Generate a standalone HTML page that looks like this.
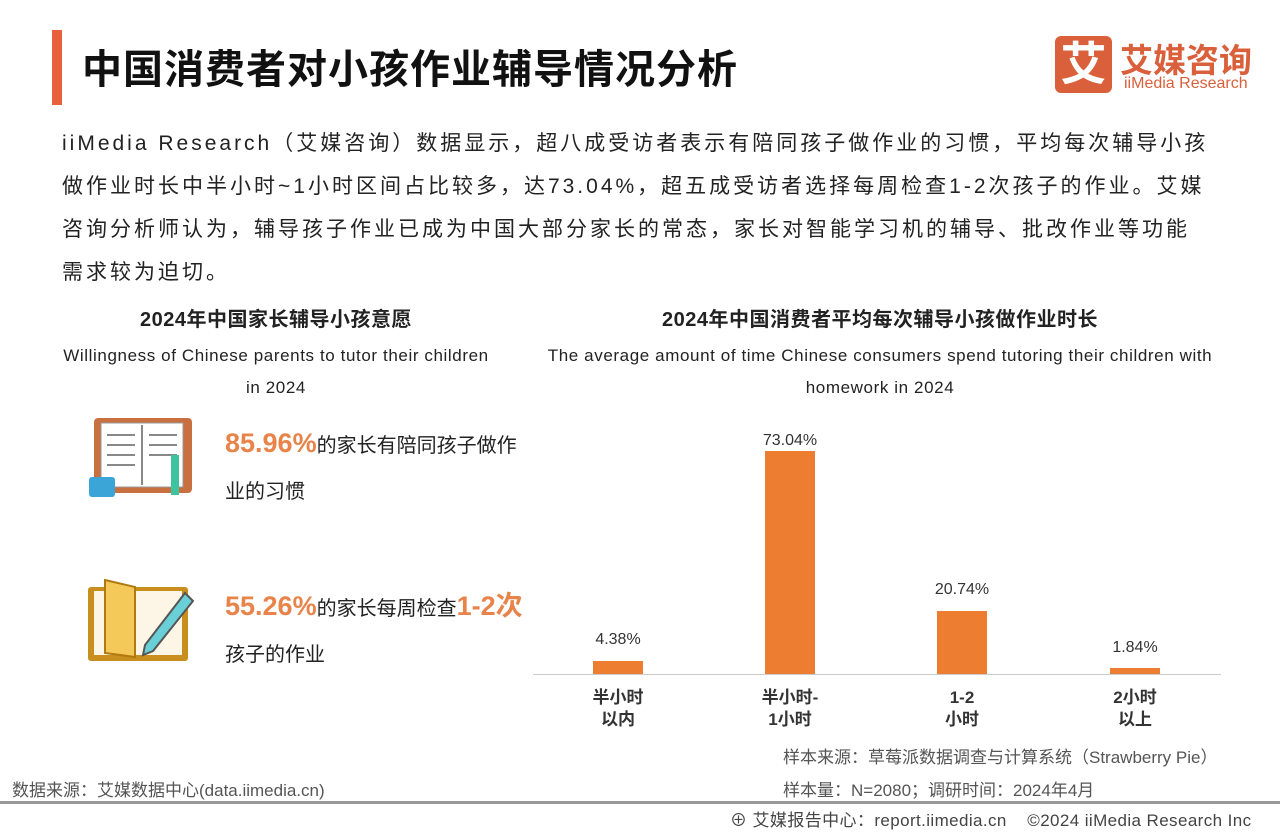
<!DOCTYPE html>
<html><head><meta charset="utf-8"><style>
body{margin:0;width:1280px;height:832px;background:#fff;position:relative;overflow:hidden;font-family:"Liberation Sans","Noto Sans CJK SC",sans-serif;color:#222}
.a{position:absolute;white-space:nowrap}
.bar{position:absolute;background:#ed7d31;width:50px}
.lbl{position:absolute;width:120px;text-align:center;font-size:16px;color:#333}
.xl{position:absolute;width:120px;text-align:center;font-size:17px;font-weight:bold;line-height:22px;color:#333}
.o{color:#e8844a}
</style></head><body>
<div class="a" style="left:52px;top:30px;width:10px;height:75px;background:#e8603c"></div>
<div class="a" style="left:82px;top:37px;font-size:40px;letter-spacing:1px;font-weight:bold;color:#111">中国消费者对小孩作业辅导情况分析</div>
<div class="a" style="left:1055px;top:36px;width:57px;height:57px;background:#d9603b;border-radius:6px;color:#fff;font-size:46px;font-weight:bold;text-align:center;line-height:57px">艾</div>
<div class="a" style="left:1120px;top:34px;font-size:33px;font-weight:bold;color:#d9603b">艾媒咨询</div>
<div class="a" style="left:1124px;top:75px;font-size:16px;color:#d9603b">iiMedia Research</div>
<div class="a" style="left:62px;top:122px;font-size:21px;line-height:43px;color:#222;letter-spacing:3px">iiMedia Research（艾媒咨询）数据显示，超八成受访者表示有陪同孩子做作业的习惯，平均每次辅导小孩<br>做作业时长中半小时~1小时区间占比较多，达73.04%，超五成受访者选择每周检查1-2次孩子的作业。艾媒<br>咨询分析师认为，辅导孩子作业已成为中国大部分家长的常态，家长对智能学习机的辅导、批改作业等功能<br>需求较为迫切。</div>
<div class="a" style="left:56px;top:303px;width:440px;text-align:center;font-size:20px;font-weight:bold;letter-spacing:0.5px">2024年中国家长辅导小孩意愿</div>
<div class="a" style="left:46px;top:340px;width:460px;text-align:center;font-size:17px;line-height:32px;letter-spacing:0.6px">Willingness of Chinese parents to tutor their children<br>in 2024</div>
<div class="a" style="left:530px;top:303px;width:700px;text-align:center;font-size:20px;font-weight:bold;letter-spacing:0.5px">2024年中国消费者平均每次辅导小孩做作业时长</div>
<div class="a" style="left:530px;top:340px;width:700px;text-align:center;font-size:17px;line-height:32px;letter-spacing:0.6px">The average amount of time Chinese consumers spend tutoring their children with<br>homework in 2024</div>
<svg class="a" style="left:85px;top:415px" width="110" height="85">
<rect x="9" y="3" width="98" height="75" rx="4" fill="#c8703f"/><rect x="16" y="8" width="82" height="64" fill="#fff" stroke="#999"/>
<g stroke="#888" stroke-width="2"><line x1="22" y1="20" x2="50" y2="20"/><line x1="22" y1="30" x2="50" y2="30"/><line x1="22" y1="40" x2="50" y2="40"/><line x1="22" y1="50" x2="50" y2="50"/><line x1="64" y1="20" x2="92" y2="20"/><line x1="64" y1="30" x2="92" y2="30"/><line x1="64" y1="40" x2="92" y2="40"/><line x1="57" y1="10" x2="57" y2="70"/></g>
<rect x="4" y="62" width="26" height="20" rx="3" fill="#3ba5d8"/><rect x="86" y="40" width="8" height="40" fill="#3cc4a0"/></svg>
<div class="a" style="left:225px;top:420px;font-size:20px;line-height:46px"><span class="o" style="font-size:27px;font-weight:bold">85.96%</span>的家长有陪同孩子做作<br>业的习惯</div>
<svg class="a" style="left:85px;top:575px" width="115" height="90">
<rect x="3" y="12" width="100" height="74" rx="3" fill="#c98f1e"/><rect x="9" y="16" width="88" height="64" fill="#fdf6e6"/>
<path d="M20 5 L50 12 L50 82 L20 78Z" fill="#f5c85a" stroke="#b07a10" stroke-width="2"/>
<path d="M60 70 L100 18 L108 26 L68 76 L58 80Z" fill="#6ad0d8" stroke="#555" stroke-width="2"/></svg>
<div class="a" style="left:225px;top:583px;font-size:20px;line-height:46px"><span class="o" style="font-size:27px;font-weight:bold">55.26%</span>的家长每周检查<span class="o" style="font-size:27px;font-weight:bold">1-2次</span><br>孩子的作业</div>
<div class="a" style="left:533px;top:674px;width:688px;height:1px;background:#ccc"></div>
<div class="bar" style="left:593px;top:661px;height:13px"></div>
<div class="bar" style="left:765px;top:451px;height:223px"></div>
<div class="bar" style="left:937px;top:611px;height:63px"></div>
<div class="bar" style="left:1110px;top:668px;height:6px"></div>
<div class="lbl" style="left:558px;top:631px">4.38%</div>
<div class="lbl" style="left:730px;top:432px">73.04%</div>
<div class="lbl" style="left:902px;top:581px">20.74%</div>
<div class="lbl" style="left:1075px;top:639px">1.84%</div>
<div class="xl" style="left:558px;top:687px">半小时<br>以内</div>
<div class="xl" style="left:730px;top:687px">半小时-<br>1小时</div>
<div class="xl" style="left:902px;top:687px">1-2<br>小时</div>
<div class="xl" style="left:1075px;top:687px">2小时<br>以上</div>
<div class="a" style="left:783px;top:743px;font-size:17px;color:#555">样本来源：草莓派数据调查与计算系统（Strawberry Pie）</div>
<div class="a" style="left:783px;top:776px;font-size:17px;color:#555">样本量：N=2080；调研时间：2024年4月</div>
<div class="a" style="left:12px;top:776px;font-size:17px;color:#555">数据来源：艾媒数据中心(data.iimedia.cn)</div>
<div class="a" style="left:0;top:801px;width:1280px;height:3px;background:#999"></div>
<div class="a" style="left:730px;top:806px;font-size:17px;letter-spacing:0.4px;color:#444">⊕ 艾媒报告中心：report.iimedia.cn &nbsp;&nbsp;&nbsp;©2024 iiMedia Research Inc</div>
</body></html>
